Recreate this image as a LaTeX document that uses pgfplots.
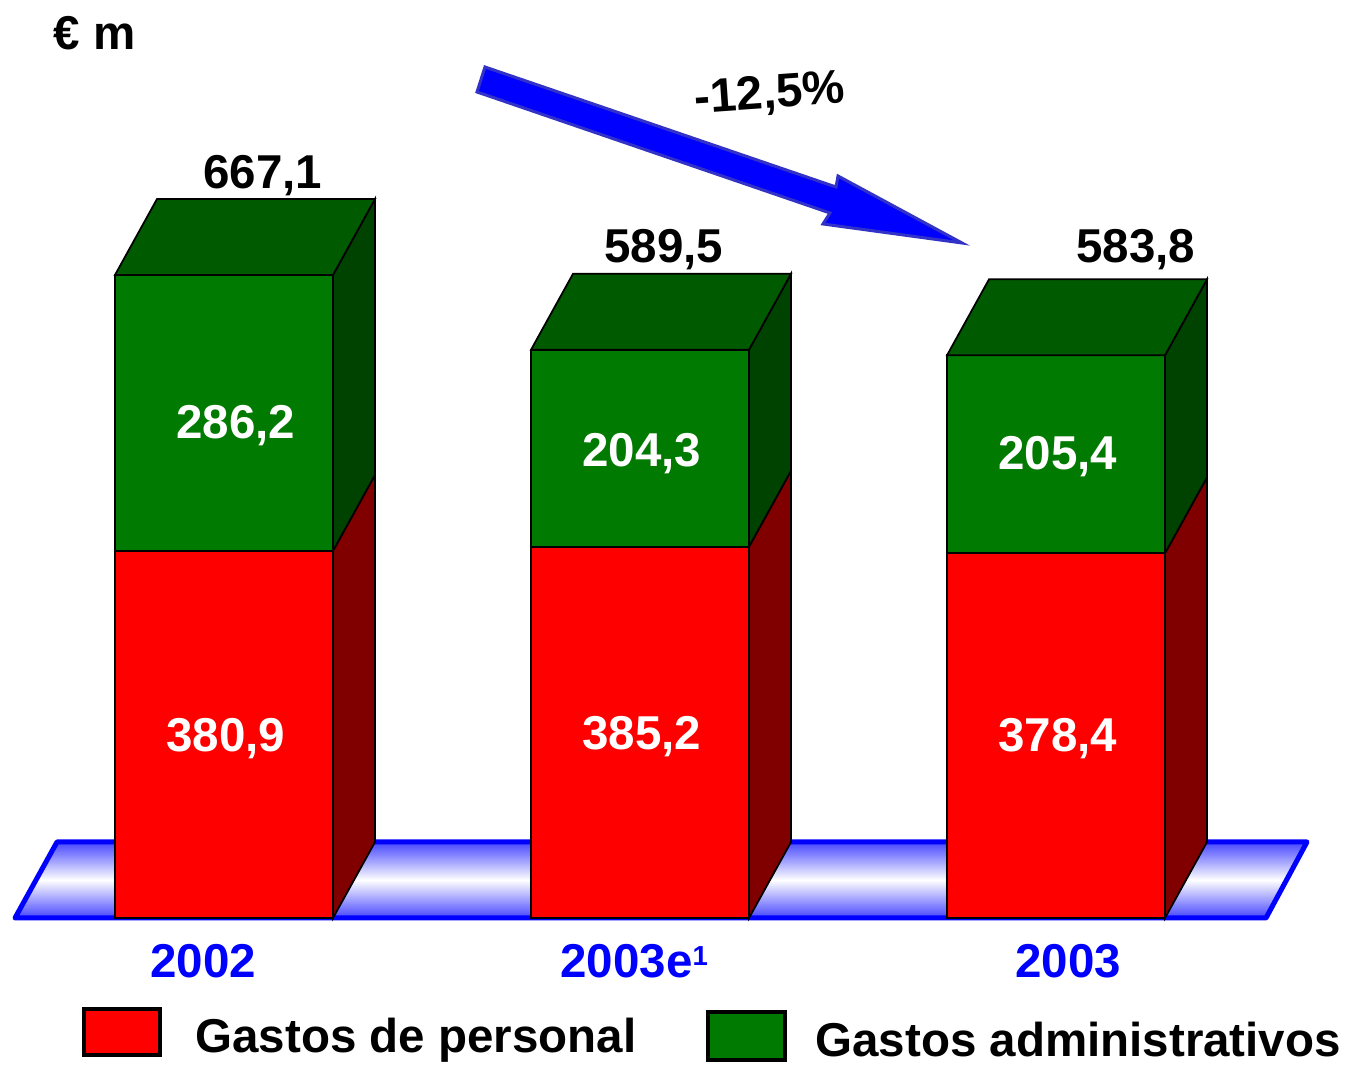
\documentclass[border=0pt]{standalone}
\usepackage{pgfplots}
\usepackage{fontspec}
\setmainfont{Liberation Sans}
\pgfplotsset{compat=1.18}

\definecolor{gfront}{RGB}{0,122,0}
\definecolor{gtop}{RGB}{0,90,0}
\definecolor{gside}{RGB}{0,66,0}
\definecolor{rside}{RGB}{128,0,0}
\definecolor{arrowedge}{RGB}{50,50,200}
\definecolor{floorblue}{RGB}{70,70,255}

% depth of the 3D boxes in axis units
\newcommand{\boxsides}[3]{% #1 category, #2 personal, #3 total
  \pgfmathsetmacro\xr{#1+0.262}
  \pgfmathsetmacro\xb{#1+0.363}
  \pgfmathsetmacro\xl{#1-0.262}
  \pgfmathsetmacro\xa{#1-0.161}
  \pgfmathsetmacro\ra{#2+78.8}
  \pgfmathsetmacro\ta{#3+78.8}
  \addplot[fill=rside, draw=black, line width=0.7pt] coordinates {(\xr,0) (\xb,78.8) (\xb,\ra) (\xr,#2)} -- cycle;
  \addplot[fill=gside, draw=black, line width=0.7pt] coordinates {(\xr,#2) (\xb,\ra) (\xb,\ta) (\xr,#3)} -- cycle;
  \addplot[fill=gtop, draw=black, line width=0.7pt] coordinates {(\xl,#3) (\xa,\ta) (\xb,\ta) (\xr,#3)} -- cycle;
}

\begin{document}
\begin{tikzpicture}[font=\fontsize{19}{22}\selectfont\bfseries]
% floor (pixel coordinates of the reference)
\begin{scope}[x=0.4pt, y=-0.4pt, yshift=426.4pt]
  \draw[blue, line width=2pt, line join=round, top color=floorblue,
        bottom color=floorblue, middle color=white]
    (15,918) -- (1266,918) -- (1307,842) -- (57,842) -- cycle;
\end{scope}

\begin{axis}[
  at={(0,0)}, anchor=south west,
  scale only axis,
  width=539.6pt, height=426.4pt,
  xmin=-0.5385, xmax=2.7043,
  ymin=-153.53, ymax=952.28,
  hide axis,
  clip=false,
]
  % front faces: total (green) with personal (red) over it
  \addplot[ybar, bar width=0.524, bar shift=0pt, fill=gfront, draw=black, line width=0.7pt]
    coordinates {(0,667.1) (1,589.5) (2,583.8)};
  \addplot[ybar, bar width=0.524, bar shift=0pt, fill=red, draw=black, line width=0.7pt]
    coordinates {(0,380.9) (1,385.2) (2,378.4)};
  \boxsides{0}{380.9}{667.1}
  \boxsides{1}{385.2}{589.5}
  \boxsides{2}{378.4}{583.8}
\end{axis}

\begin{scope}[x=0.4pt, y=-0.4pt, yshift=426.4pt]
  % arrow
  \draw[fill=blue, draw=arrowedge, line width=1.2pt, line join=miter]
    (485,67) -- (836,187) -- (838,176) -- (962,243) -- (823,224) -- (830,213) -- (477,92) -- cycle;
  \node[rotate=4] at (770,95) {-12,5\%};
  \node[anchor=base west, inner sep=0pt] at (53,50) {€ m};

  % totals
  \node[anchor=base west, inner sep=0pt] at (203,189) {667,1};
  \node[anchor=base west, inner sep=0pt] at (604,263) {589,5};
  \node[anchor=base west, inner sep=0pt] at (1076,263) {583,8};

  % segment values
  \begin{scope}[every node/.style={anchor=base west, inner sep=0pt, text=white}]
    \node at (176,439) {286,2};
    \node at (166,752) {380,9};
    \node at (582,467) {204,3};
    \node at (582,750) {385,2};
    \node at (998,470) {205,4};
    \node at (998,752) {378,4};
  \end{scope}

  % categories
  \begin{scope}[every node/.style={anchor=base west, inner sep=0pt, text=blue}]
    \node at (150,978) {2002};
    \node at (560,978) {2003e\raisebox{5pt}{\fontsize{11}{11}\selectfont 1}};
    \node at (1015,978) {2003};
  \end{scope}

  % legend
  \draw[black, line width=1.6pt, fill=red] (84,1009) rectangle (160,1055);
  \node[anchor=base west, inner sep=0pt] at (195,1053) {Gastos de personal};
  \draw[black, line width=1.6pt, fill=gfront] (708,1012) rectangle (785,1060);
  \node[anchor=base west, inner sep=0pt] at (815,1057) {Gastos administrativos};
\end{scope}

\pgfresetboundingbox
\useasboundingbox (0,0) rectangle (539.6pt,426.4pt);
\end{tikzpicture}
\end{document}
